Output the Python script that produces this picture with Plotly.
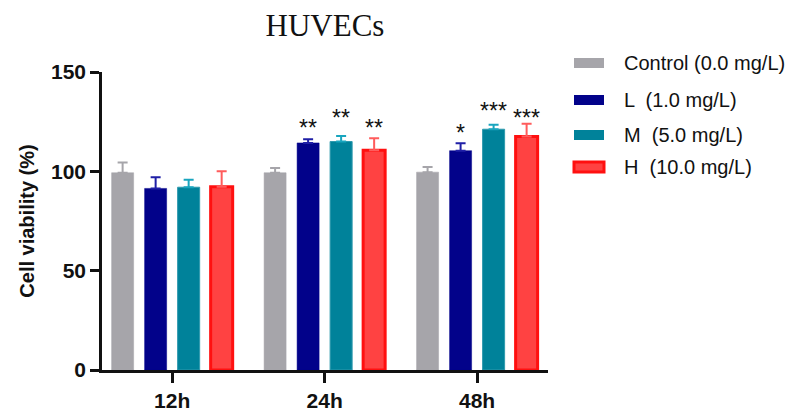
import plotly.graph_objects as go

# ---- data ----
timepoints = ["12h", "24h", "48h"]
groups = ["Control (0.0 mg/L)", "L  (1.0 mg/L)", "M  (5.0 mg/L)", "H  (10.0 mg/L)"]
control_mean = [99.3, 99.3, 99.6]
control_sd = [5.2, 2.4, 2.6]
low_mean = [91.4, 114.3, 110.4]
low_sd = [5.6, 1.9, 3.7]
mid_mean = [92.0, 115.0, 121.2]
mid_sd = [3.8, 2.8, 2.2]
high_mean = [92.3, 110.6, 117.5]
high_sd = [7.7, 6.0, 6.5]
# significance labels (per group, per time point) and their heights
low_sig = ["", "**", "*"]
mid_sig = ["", "**", "***"]
high_sig = ["", "**", "***"]
low_sig_y = [None, 124.7, 122.4]
mid_sig_y = [None, 129.8, 133.3]
high_sig_y = [None, 124.7, 130.0]

y_ticks = [0, 50, 100, 150]

means = [control_mean, low_mean, mid_mean, high_mean]
sds = [control_sd, low_sd, mid_sd, high_sd]
sigs = [None, low_sig, mid_sig, high_sig]
sig_ys = [None, low_sig_y, mid_sig_y, high_sig_y]

fills = ["#A6A5AA", "#02028A", "#00829A", "#FF4242"]
edges = ["#A6A5AA", "#02028A", "#2E9AAE", "#FF1010"]
edge_w = [0.5, 0.5, 1, 3]
err_cols = ["#A6A5AA", "#1F1FA6", "#19A5BE", "#FF5C5C"]

SANS = "Arial, Liberation Sans, sans-serif"

fig = go.Figure()
for i in range(4):
    fig.add_trace(go.Bar(
        x=timepoints, y=means[i], name=groups[i],
        marker=dict(color=fills[i], line=dict(color=edges[i], width=edge_w[i])),
        error_y=dict(type="data", array=sds[i], arrayminus=[0] * 3, symmetric=False,
                     color=err_cols[i], thickness=2, width=5),
        showlegend=False,
    ))

# significance stars placed over each bar via the category axis offsets
n = 4
slot = 1 - 0.134
for i in range(1, 4):
    off = (i - (n - 1) / 2) * slot / n
    for j, t in enumerate(timepoints):
        if sigs[i][j]:
            fig.add_annotation(
                x=j + off, y=sig_ys[i][j], xref="x", yref="y",
                text=sigs[i][j], showarrow=False,
                font=dict(family=SANS, size=23, color="#111"),
                yanchor="middle", yshift=-6,
            )

# custom legend (swatches + labels)
px_l, px_r, px_t, px_b = 102, 548, 72, 370
def pxx(v):
    return (v - px_l) / (px_r - px_l)
def pxy(v):
    return (px_b - v) / (px_b - px_t)

leg_rows = [63, 100, 135, 167]
for i, g in enumerate(groups):
    yc = leg_rows[i]
    lw = 3 if i == 3 else 0
    fig.add_shape(type="rect", xref="paper", yref="paper",
                  x0=pxx(574), x1=pxx(604), y0=pxy(yc + 5), y1=pxy(yc - 5),
                  fillcolor=fills[i],
                  line=dict(color=edges[i], width=lw))
    fig.add_annotation(x=pxx(622), y=pxy(yc), xref="paper", yref="paper",
                       text=g, showarrow=False, xanchor="left", yanchor="middle",
                       font=dict(family=SANS, size=20, color="#111"))

fig.update_layout(
    width=798, height=416,
    margin=dict(l=px_l, r=798 - px_r, t=px_t, b=416 - px_b),
    paper_bgcolor="white", plot_bgcolor="white",
    barmode="group", bargap=0.134, bargroupgap=0.333,
    title=dict(text="HUVECs", x=0.5, xref="paper", xanchor="center",
               y=1 - 25 / 416, yref="container", yanchor="middle",
               font=dict(family="Liberation Serif, Times New Roman, serif", size=31, color="#111")),
    xaxis=dict(range=[-0.46, 2.465], showline=True, linecolor="#111", linewidth=2.5,
               ticks="outside", ticklen=10, tickwidth=2.5, tickcolor="#111",
               tickfont=dict(family=SANS, size=21, color="#111", weight="bold"),
               showgrid=False, zeroline=False, fixedrange=True, automargin=False),
    yaxis=dict(range=[0, 150], tickvals=y_ticks, showline=True, linecolor="#111", linewidth=2.5,
               ticks="outside", ticklen=9, tickwidth=2.5, tickcolor="#111",
               tickfont=dict(family=SANS, size=21, color="#111", weight="bold"),
               title=dict(text="Cell viability (%)", standoff=12,
                          font=dict(family=SANS, size=20, color="#111", weight="bold")),
               showgrid=False, zeroline=False, fixedrange=True, automargin=False),
)

fig.write_html("out.html")
